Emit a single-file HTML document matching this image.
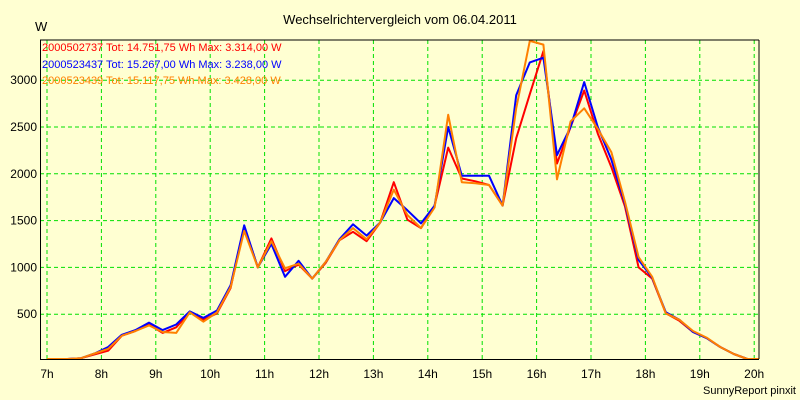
<!DOCTYPE html>
<html><head><meta charset="utf-8"><style>
body{margin:0;background:#ffffd2;}
svg{display:block;font-family:"Liberation Sans",sans-serif;}
</style></head><body>
<svg width="800" height="400" viewBox="0 0 800 400">
<rect x="0" y="0" width="800" height="400" fill="#ffffd2"/>
<text x="400" y="24" font-size="13" text-anchor="middle" fill="#000">Wechselrichtervergleich vom 06.04.2011</text>
<text x="35" y="31" font-size="13" fill="#000">W</text>
<g id="grid"></g>
<g id="series"></g>
<line x1="40" y1="40" x2="759" y2="40" stroke="#000"/>
<line x1="759" y1="40" x2="759" y2="359" stroke="#000"/>
<line x1="40.5" y1="40" x2="40.5" y2="359" stroke="#000"/>
<line x1="40" y1="359.5" x2="759" y2="359.5" stroke="#000"/>
<g font-size="11">
<text x="42" y="51" fill="#ff0000">2000502737 Tot: 14.751,75 Wh Max: 3.314,00 W</text>
<text x="42" y="68" fill="#0000ff">2000523437 Tot: 15.267,00 Wh Max: 3.238,00 W</text>
<text x="42" y="84" fill="#ff8000">2000523439 Tot: 15.117,75 Wh Max: 3.428,00 W</text>
</g>
<text x="796" y="394" font-size="11" text-anchor="end" fill="#000">SunnyReport pinxit</text>
</svg>
<script>
const yTicks=[500,1000,1500,2000,2500,3000];
const xTickHours=[7,8,9,10,11,12,13,14,15,16,17,18,19,20];
const red=[0,0,30,70,110,270,320,390,300,360,520,440,510,780,1440,1000,1310,960,1030,880,1050,1290,1380,1280,1480,1910,1510,1420,1660,2280,1950,1920,1880,1660,2380,2850,3310,2110,2500,2890,2430,2070,1650,1000,880,510,430,310,245,150,75,0];
const blue=[0,0,30,80,150,280,330,410,330,390,530,460,540,810,1450,1000,1250,900,1070,880,1060,1300,1460,1340,1480,1740,1610,1470,1660,2500,1980,1980,1980,1660,2840,3190,3240,2200,2500,2980,2500,2150,1680,1080,890,520,440,310,245,150,75,0];
const orange=[0,0,30,80,130,270,320,380,310,300,520,420,520,790,1390,1000,1280,990,1040,880,1060,1290,1420,1300,1480,1830,1560,1420,1640,2630,1910,1900,1880,1660,2700,3420,3380,1940,2560,2700,2480,2230,1700,1110,900,510,440,320,250,150,75,0];
const NS="http://www.w3.org/2000/svg";
function xs(h){return 47+(h-7)*54.4;}
function ys(v){return Math.min(359,361-v*0.0936);}
function tOf(k){return 7.125+0.25*k;}
const grid=document.getElementById('grid');
const svg=document.querySelector('svg');
yTicks.forEach(v=>{
  const l=document.createElementNS(NS,'line');
  l.setAttribute('x1',40);l.setAttribute('x2',759);l.setAttribute('y1',ys(v));l.setAttribute('y2',ys(v));
  l.setAttribute('stroke','#00e000');l.setAttribute('stroke-dasharray','4,3');
  
  
  grid.appendChild(l);
  const t=document.createElementNS(NS,'text');
  t.setAttribute('x',37);t.setAttribute('y',ys(v)+4);t.setAttribute('font-size','12');t.setAttribute('text-anchor','end');
  t.textContent=v;
  
  
  svg.appendChild(t);
});
xTickHours.forEach(h=>{
  const l=document.createElementNS(NS,'line');
  l.setAttribute('x1',xs(h));l.setAttribute('x2',xs(h));l.setAttribute('y1',40);l.setAttribute('y2',359);
  l.setAttribute('stroke','#00e000');l.setAttribute('stroke-dasharray','4,3');
  
  
  grid.appendChild(l);
  const t=document.createElementNS(NS,'text');
  t.setAttribute('x',xs(h));t.setAttribute('y',378);t.setAttribute('font-size','12');t.setAttribute('text-anchor','middle');
  t.textContent=h+'h';
  
  
  svg.appendChild(t);
});
const sg=document.getElementById('series');
[[red,'#ff0000','series-2000502737'],[blue,'#0000ff','series-2000523437'],[orange,'#ff8000','series-2000523439']].forEach(([d,c,n])=>{
  const pts=[[xs(7),ys(0)]].concat(d.map((v,k)=>[xs(tOf(k)),ys(v)]));
  pts.push([759,ys(0)]);
  const p=document.createElementNS(NS,'polyline');
  p.setAttribute('points',pts.map(q=>q[0].toFixed(1)+','+q[1].toFixed(1)).join(' '));
  p.setAttribute('fill','none');p.setAttribute('stroke',c);p.setAttribute('stroke-width','2');p.setAttribute('stroke-linejoin','round');
  
  
  sg.appendChild(p);
});
</script>
</body></html>
